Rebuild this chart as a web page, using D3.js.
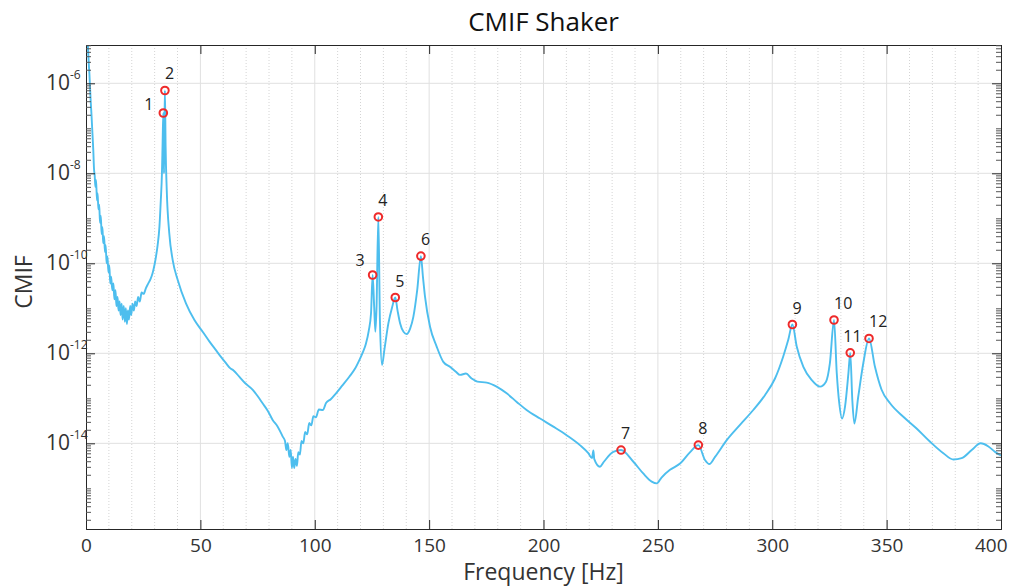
<!DOCTYPE html>
<html>
<head>
<meta charset="utf-8">
<title>CMIF Shaker</title>
<script src="https://cdn.jsdelivr.net/npm/d3@7"></script>
<style>
  body { margin: 0; background: #fff; }
  svg text { font-family: "Open Sans", sans-serif; fill: #262626; }
  .tick-label { font-size: 19px; fill: #333; }
  .axis-title { font-size: 23px; fill: #333; }
  .title { font-size: 26px; fill: #111; }
  .peak-label { font-size: 16px; fill: #222; }
</style>
</head>
<body>
<script>
// frequency [Hz] and log10(CMIF)
var freq = [
  0.2, 0.7, 1.2, 1.5, 2.0, 2.4, 2.8, 3.2, 3.5, 3.8, 4.1, 4.4, 4.8, 5.1, 5.4, 5.8,
  6.1, 6.5, 6.8, 7.2, 7.5, 7.9, 8.3, 8.6, 9.0, 9.4, 9.8, 10.2, 10.6, 11.0, 11.5, 12.0,
  12.4, 12.9, 13.3, 13.8, 14.2, 14.7, 15.1, 15.6, 16.0, 16.5, 17.0, 17.4, 17.9, 18.3,
  18.8, 19.3, 19.8, 20.3, 20.9, 21.5, 22.1, 22.8, 23.5, 24.3, 25.2, 26.2, 27.2, 28.2,
  29.1, 30.0, 30.6, 31.3, 32.1, 32.7, 33.2, 33.5, 33.8, 34.0, 34.1, 34.3, 34.5, 34.8,
  35.3, 36.4, 37.9, 40.1, 43.7, 47.4, 51.0, 54.0, 56.8, 59.0, 61.2, 63.0, 64.5, 67.0,
  69.5, 72.9, 75.0, 77.2, 79.5, 81.6, 83.8, 86.0, 87.0, 87.6, 88.2, 88.9, 89.5, 90.0,
  90.5, 91.0, 91.6, 92.2, 92.8, 93.5, 94.2, 95.0, 95.8, 96.7, 97.6, 98.5, 99.4, 100.5,
  101.8, 103.5, 105.0, 107.0, 109.3, 112.0, 115.1, 117.5, 119.5, 121.0, 122.4, 123.6,
  124.6, 125.3, 126.0, 126.5, 127.0, 127.8, 128.5, 129.4, 130.5, 132.2, 133.8, 135.2,
  136.2, 137.3, 138.8, 140.2, 141.7, 143.1, 144.8, 146.4, 147.3, 148.2, 150.4, 153.3,
  156.2, 159.1, 161.7, 163.5, 166.1, 168.6, 171.1, 175.2, 179.5, 183.9, 188.3, 192.6,
  198.5, 204.3, 210.1, 215.9, 219.6, 221.2, 221.8, 222.2, 224.7, 226.4, 230.5, 233.9,
  239.3, 243.6, 247.3, 249.5, 251.6, 255.3, 259.7, 264.0, 267.7, 270.6, 272.5, 275.0,
  280.1, 285.9, 291.7, 296.8, 301.2, 304.8, 307.0, 308.8, 310.7, 313.6, 317.2, 320.9,
  323.5, 325.2, 327.0, 328.2, 329.3, 330.5, 331.8, 333.3, 334.1, 335.0, 335.9, 337.6,
  339.8, 342.3, 344.9, 347.8, 351.5, 357.3, 363.1, 368.9, 374.8, 379.2, 382.8, 387.2,
  391.1, 394.5, 397.4, 400.0
];
var cmifExp = [
  -4.7, -5.04, -5.55, -5.8, -6.35, -6.7, -7.1, -7.5, -7.9, -8.05, -8.3, -8.15, -8.6, -8.45, -8.8, -8.7,
  -9.1, -8.95, -9.35, -9.2, -9.55, -9.4, -9.75, -9.6, -10.0, -9.85, -10.2, -10.05, -10.45, -10.3, -10.6, -10.45,
  -10.8, -10.6, -10.95, -10.75, -11.05, -10.85, -11.15, -10.9, -11.25, -10.95, -11.3, -11.0, -11.35, -11.05,
  -11.25, -10.95, -11.15, -10.9, -11.05, -10.85, -10.95, -10.75, -10.85, -10.65, -10.68, -10.55, -10.45, -10.35,
  -10.22, -10.02, -9.85, -9.6, -9.19, -8.6, -8.0, -7.3, -6.66, -7.6, -8.0, -7.0, -6.16, -7.4,
  -8.37, -9.33, -9.93, -10.37, -10.89, -11.26, -11.52, -11.74, -11.93, -12.08, -12.22, -12.33, -12.38, -12.52,
  -12.66, -12.81, -12.95, -13.11, -13.28, -13.48, -13.63, -13.85, -13.95, -14.15, -14.0, -14.3, -14.15, -14.55,
  -14.3, -14.55, -14.35, -14.5, -14.2, -14.25, -13.95, -14.0, -13.75, -13.8, -13.55, -13.6, -13.4, -13.42,
  -13.25, -13.26, -13.1, -13.02, -12.89, -12.72, -12.52, -12.35, -12.15, -11.98, -11.78, -11.5,
  -11.11, -10.26, -11.0, -11.52, -11.0, -8.97, -11.3, -12.26, -11.9, -11.33, -10.98, -10.76,
  -11.05, -11.33, -11.52, -11.57, -11.45, -11.19, -10.59, -9.84, -10.3, -10.74, -11.41, -11.85,
  -12.19, -12.30, -12.41, -12.48, -12.45, -12.56, -12.63, -12.65, -12.74, -12.89, -13.08, -13.26,
  -13.45, -13.63, -13.82, -14.04, -14.22, -14.33, -14.16, -14.35, -14.52, -14.41, -14.19, -14.15,
  -14.41, -14.67, -14.85, -14.89, -14.76, -14.59, -14.45, -14.2, -14.04, -14.37, -14.46, -14.30,
  -13.93, -13.59, -13.26, -12.93, -12.56, -12.07, -11.70, -11.36, -11.85, -12.30, -12.59, -12.74,
  -12.63, -12.22, -11.26, -12.44, -13.11, -13.45, -13.19, -12.44, -11.99, -13.04, -13.56, -12.96,
  -12.22, -11.67, -12.30, -12.81, -13.11, -13.41, -13.67, -13.96, -14.22, -14.36, -14.33, -14.15,
  -14.00, -14.07, -14.19, -14.27
];

// picked peaks
var peakFreq = [33.8, 34.5, 125.3, 127.8, 135.2, 146.4, 233.9, 267.7, 308.8, 327.0, 334.1, 342.3];
var peakExp = [-6.66, -6.16, -10.26, -8.97, -10.76, -9.84, -14.15, -14.04, -11.36, -11.26, -11.99, -11.67];
var peakNames = ["1", "2", "3", "4", "5", "6", "7", "8", "9", "10", "11", "12"];

var xTicks = [0, 50, 100, 150, 200, 250, 300, 350, 400];
var xMinorTicks = d3.range(10, 400, 10).filter(function(d) { return d % 50 !== 0; });
var yTickExp = [-14, -12, -10, -8, -6];

var width = 1010, height = 588;
var plotLeft = 86, plotRight = 1001, plotTop = 45, plotBottom = 529;

var svg = d3.select("body").append("svg")
  .attr("width", width)
  .attr("height", height);

var xScale = d3.scaleLinear().domain([0, 400]).range([plotLeft, plotRight]);
var yScale = d3.scaleLog()
  .domain([Math.pow(10, -15.904), Math.pow(10, -5.149)])
  .range([plotBottom, plotTop]);

// grid
svg.append("g").selectAll("line")
  .data(xMinorTicks).enter().append("line")
  .attr("x1", function(d) { return xScale(d); })
  .attr("x2", function(d) { return xScale(d); })
  .attr("y1", plotTop).attr("y2", plotBottom)
  .attr("stroke", "#d4d4d4")
  .attr("stroke-dasharray", "1,2");

svg.append("g").selectAll("line")
  .data(xTicks.slice(1, -1)).enter().append("line")
  .attr("x1", function(d) { return xScale(d); })
  .attr("x2", function(d) { return xScale(d); })
  .attr("y1", plotTop).attr("y2", plotBottom)
  .attr("stroke", "#e0e0e0");

svg.append("g").selectAll("line")
  .data(yTickExp).enter().append("line")
  .attr("x1", plotLeft).attr("x2", plotRight)
  .attr("y1", function(d) { return yScale(Math.pow(10, d)); })
  .attr("y2", function(d) { return yScale(Math.pow(10, d)); })
  .attr("stroke", "#e0e0e0");

// curve
svg.append("clipPath").attr("id", "plotClip")
  .append("rect")
  .attr("x", plotLeft).attr("y", plotTop)
  .attr("width", plotRight - plotLeft).attr("height", plotBottom - plotTop);

var points = freq.map(function(f, i) { return [f, Math.pow(10, cmifExp[i])]; });

var line = d3.line()
  .x(function(d) { return xScale(d[0]); })
  .y(function(d) { return yScale(d[1]); })
  .curve(d3.curveMonotoneX);

svg.append("path")
  .datum(points)
  .attr("clip-path", "url(#plotClip)")
  .attr("fill", "none")
  .attr("stroke", "#4DBEEE")
  .attr("stroke-width", 1.9)
  .attr("stroke-linejoin", "round")
  .attr("d", line);

// axes (ticks inward, box on all four sides)
var xAxisB = d3.axisBottom(xScale).tickValues(xTicks).tickSize(-9).tickPadding(10);
var gx = svg.append("g")
  .attr("transform", "translate(0," + plotBottom + ")")
  .call(xAxisB);
gx.selectAll("text").attr("class", "tick-label").attr("fill", null);
// last label sits inside the window like the reference
gx.selectAll(".tick").filter(function(d) { return d === 400; }).select("text")
  .attr("text-anchor", "end").attr("dx", 6);

var xAxisT = d3.axisTop(xScale).tickValues(xTicks).tickSize(-9).tickFormat("");
svg.append("g").attr("transform", "translate(0," + plotTop + ")").call(xAxisT);

var yMinor = [];
d3.range(-16, -5).forEach(function(e) {
  for (var k = 1; k <= 9; k++) {
    var v = k * Math.pow(10, e);
    if (k === 1 && yTickExp.indexOf(e) >= 0) continue;
    if (v >= yScale.domain()[0] && v <= yScale.domain()[1]) yMinor.push(v);
  }
});
var yMajor = yTickExp.map(function(e) { return Math.pow(10, e); });

var yAxisL = d3.axisLeft(yScale).tickValues(yMajor).tickSize(-9).tickFormat("");
svg.append("g").attr("transform", "translate(" + plotLeft + ",0)").call(yAxisL);
var yAxisLm = d3.axisLeft(yScale).tickValues(yMinor).tickSize(-5).tickFormat("");
svg.append("g").attr("class", "minor").attr("transform", "translate(" + plotLeft + ",0)").call(yAxisLm);
var yAxisR = d3.axisRight(yScale).tickValues(yMajor).tickSize(-9).tickFormat("");
svg.append("g").attr("transform", "translate(" + plotRight + ",0)").call(yAxisR);
var yAxisRm = d3.axisRight(yScale).tickValues(yMinor).tickSize(-5).tickFormat("");
svg.append("g").attr("class", "minor").attr("transform", "translate(" + plotRight + ",0)").call(yAxisRm);

svg.selectAll(".domain").attr("stroke", "#262626");
svg.selectAll(".tick line").attr("stroke", "#262626");
svg.selectAll(".minor .tick line").attr("stroke", "#555");
svg.selectAll(".minor .domain").remove();

// y tick labels as 10^n
var yLab = svg.append("g").selectAll("text")
  .data(yTickExp).enter().append("text")
  .attr("class", "tick-label")
  .attr("x", 70)
  .attr("y", function(d) { return yScale(Math.pow(10, d)) + 7; })
  .attr("text-anchor", "end");
yLab.append("tspan").style("font-size", "21px").text("10");
yLab.append("tspan")
  .attr("dy", -11)
  .attr("x", 70)
  .attr("text-anchor", "start")
  .style("font-size", "12px")
  .text(function(d) { return String(d); });

// peak markers and numbers
svg.append("g").selectAll("circle")
  .data(peakFreq).enter().append("circle")
  .attr("cx", function(d) { return xScale(d); })
  .attr("cy", function(d, i) { return yScale(Math.pow(10, peakExp[i])); })
  .attr("r", 3.8)
  .attr("fill", "none")
  .attr("stroke", "#ee2a2a")
  .attr("stroke-width", 2);

// label placement: most sit above right of the marker, 1 and 3 to the left
var labelDx = { "1": -10, "3": -8, "11": -7 };
var labelAnchor = { "1": "end", "3": "end" };
var labelDy = { "1": -3, "3": -9 };

svg.append("g").selectAll("text")
  .data(peakNames).enter().append("text")
  .attr("class", "peak-label")
  .attr("x", function(d, i) { return xScale(peakFreq[i]) + (labelDx[d] !== undefined ? labelDx[d] : 0); })
  .attr("y", function(d, i) { return yScale(Math.pow(10, peakExp[i])) + (labelDy[d] !== undefined ? labelDy[d] : -11); })
  .attr("text-anchor", function(d) { return labelAnchor[d] || "start"; })
  .text(function(d) { return d; });

// titles
svg.append("text")
  .attr("class", "title")
  .attr("x", (plotLeft + plotRight) / 2)
  .attr("y", 31)
  .attr("text-anchor", "middle")
  .text("CMIF Shaker");

svg.append("text")
  .attr("class", "axis-title")
  .attr("x", (plotLeft + plotRight) / 2)
  .attr("y", 580)
  .attr("text-anchor", "middle")
  .text("Frequency [Hz]");

svg.append("text")
  .attr("class", "axis-title")
  .attr("transform", "translate(32,282) rotate(-90)")
  .attr("text-anchor", "middle")
  .text("CMIF");
</script>
</body>
</html>
